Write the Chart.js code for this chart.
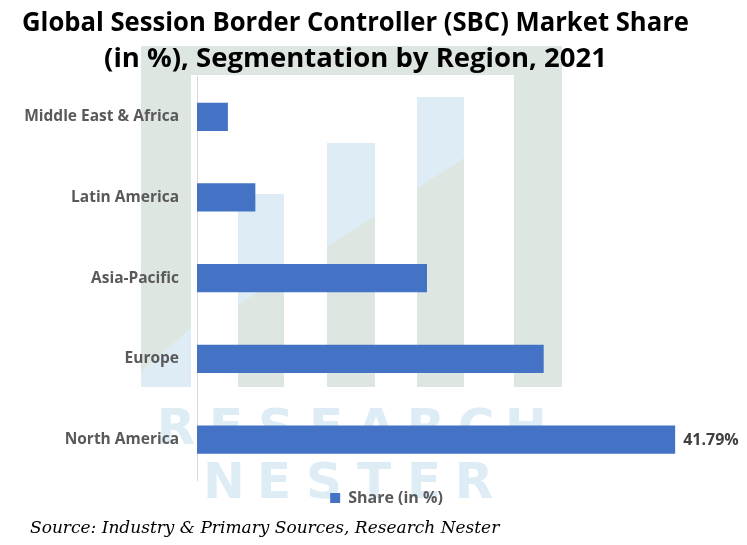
<!DOCTYPE html>
<html>
<head>
<meta charset="utf-8">
<script src="https://cdn.jsdelivr.net/npm/chart.js@4.4.1/dist/chart.umd.min.js"></script>
<style>
  html, body { margin: 0; padding: 0; background: #ffffff; }
  #wrap { width: 747px; height: 545px; position: relative; }
</style>
</head>
<body>
<div id="wrap"><canvas id="chart"></canvas></div>
<script>
  // chart data
  const regions = ['Middle East & Africa', 'Latin America', 'Asia-Pacific', 'Europe', 'North America'];
  const shareValues = [2.7, 5.1, 20.1, 30.3, 41.79];
  const valueLabels = [null, null, null, null, '41.79%'];
  const seriesName = 'Share (in %)';
  const titleLines = ['Global Session Border Controller (SBC) Market Share', '(in %), Segmentation by Region, 2021'];
  const sourceNote = 'Source: Industry & Primary Sources, Research Nester';

  const BAR_BLUE = '#4472c4';
  const LABEL_GREY = '#595959';
  const MARK_GREEN = 'rgb(221, 230, 224)';
  const MARK_BLUE = 'rgb(222, 236, 246)';

  // faint publisher watermark behind the chart
  const watermarkPlugin = {
    id: 'watermark',
    beforeDraw: function (chart) {
      const ctx = chart.ctx;
      ctx.save();
      ctx.fillStyle = MARK_GREEN;
      ctx.fillRect(141, 46, 421, 341);
      ctx.fillStyle = '#ffffff';
      ctx.fillRect(191, 75, 323, 312);

      // little triangle in the left column
      ctx.fillStyle = MARK_BLUE;
      ctx.beginPath();
      ctx.moveTo(141, 372);
      ctx.lineTo(191, 328);
      ctx.lineTo(191, 387);
      ctx.lineTo(141, 387);
      ctx.closePath();
      ctx.fill();

      const cols = [[238, 284, 194], [327, 375, 143], [417, 464, 97]];
      const splitY = function (x) { return 247 - 0.65 * (x - 327); };
      cols.forEach(function (c) {
        const x0 = c[0], x1 = c[1], top = c[2];
        ctx.fillStyle = MARK_GREEN;
        ctx.fillRect(x0, top, x1 - x0, 387 - top);
        ctx.save();
        ctx.beginPath();
        ctx.rect(x0, top, x1 - x0, 387 - top);
        ctx.clip();
        ctx.fillStyle = MARK_BLUE;
        ctx.beginPath();
        ctx.moveTo(x0, top);
        ctx.lineTo(x1, top);
        ctx.lineTo(x1, splitY(x1));
        ctx.lineTo(x0, splitY(x0));
        ctx.closePath();
        ctx.fill();
        ctx.restore();
      });

      ctx.fillStyle = MARK_BLUE;
      ctx.font = 'bold 50px "DejaVu Sans", sans-serif';
      ctx.textAlign = 'center';
      ctx.textBaseline = 'alphabetic';
      'RESEARCH'.split('').forEach(function (ch, i) {
        ctx.fillText(ch, 176 + 50 * i, 444);
      });
      'NESTER'.split('').forEach(function (ch, i) {
        ctx.fillText(ch, 224 + 50 * i, 498);
      });
      ctx.restore();
    }
  };

  // value text at the end of the bars that have one, plus the source line
  const annotationPlugin = {
    id: 'annotations',
    afterLayout: function (chart) {
      // the legend sits a bit right of the canvas centre in the reference
      if (chart.legend) {
        chart.legend.left += 31;
        chart.legend.right += 31;
      }
    },
    afterDatasetsDraw: function (chart) {
      const meta = chart.getDatasetMeta(0);
      const ctx = chart.ctx;
      ctx.save();
      ctx.font = 'bold 16px "Open Sans", sans-serif';
      ctx.fillStyle = '#404040';
      ctx.textAlign = 'left';
      ctx.textBaseline = 'middle';
      meta.data.forEach(function (bar, i) {
        if (!valueLabels[i]) return;
        ctx.fillText(valueLabels[i], bar.x + 8, bar.y + 1);
      });
      ctx.restore();
    },
    afterDraw: function (chart) {
      const ctx = chart.ctx;
      ctx.save();
      ctx.font = 'italic 17px "DejaVu Serif", serif';
      ctx.fillStyle = '#000000';
      ctx.textAlign = 'left';
      ctx.textBaseline = 'alphabetic';
      ctx.fillText(sourceNote, 30, chart.height - 12);
      ctx.restore();
    }
  };

  const ctx = document.getElementById('chart').getContext('2d');
  new Chart(ctx, {
    type: 'bar',
    data: {
      labels: regions,
      datasets: [{
        label: seriesName,
        data: shareValues,
        backgroundColor: BAR_BLUE,
        borderWidth: 0,
        categoryPercentage: 1,
        barPercentage: 0.35
      }]
    },
    options: {
      indexAxis: 'y',
      responsive: true,
      maintainAspectRatio: false,
      animation: false,
      layout: { padding: { left: 22, right: 58, top: 6, bottom: 29 } },
      scales: {
        x: {
          display: false,
          min: 0,
          max: 43
        },
        y: {
          afterFit: function (scale) { scale.width = 175; },
          grid: { display: false, drawTicks: false },
          border: { display: true, color: '#d9d9d9', width: 1 },
          ticks: {
            color: LABEL_GREY,
            padding: 18,
            font: { family: 'Open Sans', size: 15.5, weight: 'bold' }
          }
        }
      },
      plugins: {
        title: {
          display: true,
          text: titleLines,
          color: '#000000',
          font: { family: 'Open Sans', size: 27.5, weight: 'bold', lineHeight: 1.28 },
          padding: { top: 0, bottom: 0 }
        },
        legend: {
          position: 'bottom',
          labels: {
            color: LABEL_GREY,
            boxWidth: 10,
            boxHeight: 10,
            font: { family: 'Open Sans', size: 16, weight: 'bold' }
          }
        },
        tooltip: { enabled: false }
      }
    },
    plugins: [watermarkPlugin, annotationPlugin]
  });
</script>
</body>
</html>
